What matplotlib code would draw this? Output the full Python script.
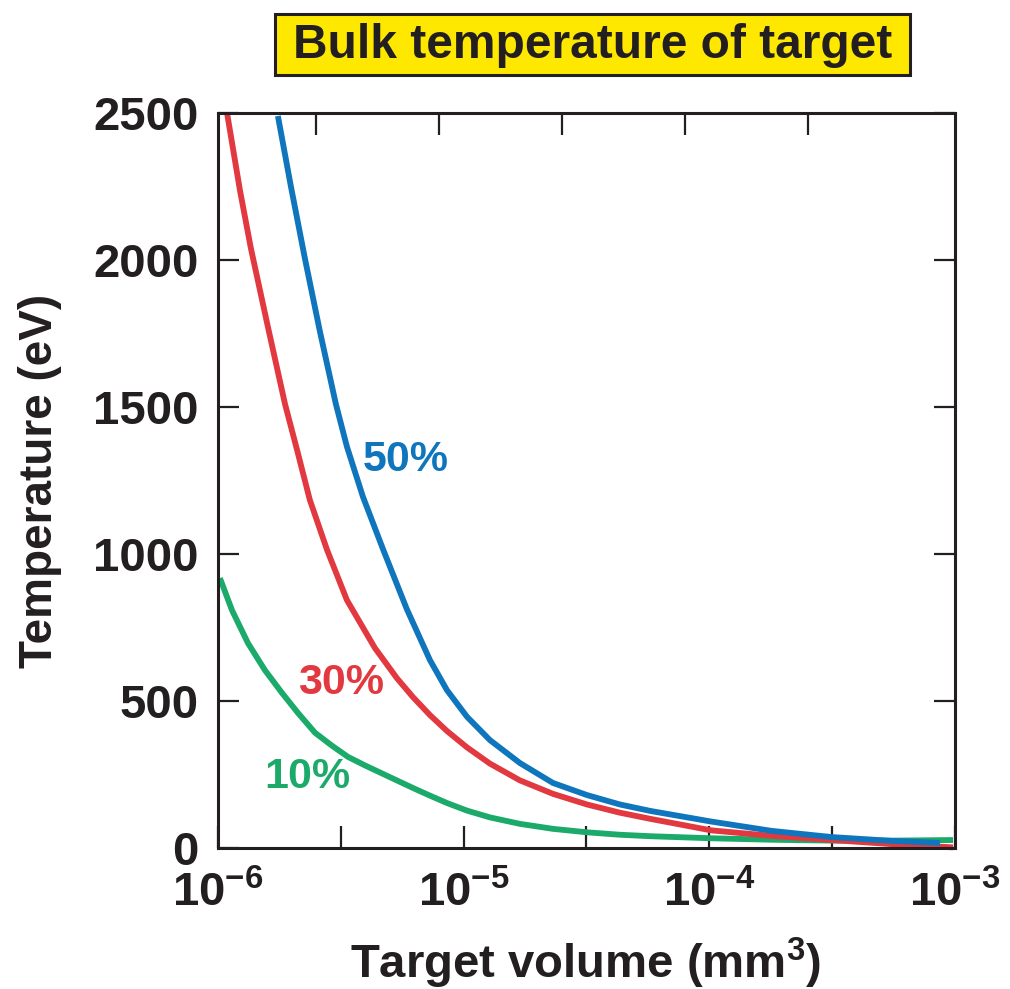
import numpy as np
import matplotlib
matplotlib.use("Agg")
import matplotlib.pyplot as plt
from matplotlib.patches import Rectangle

plt.rcParams['font.family'] = ['Liberation Sans', 'DejaVu Sans']
plt.rcParams['font.weight'] = 'bold'
plt.rcParams['mathtext.fontset'] = 'custom'
plt.rcParams['mathtext.rm'] = 'Liberation Sans:bold'
plt.rcParams['mathtext.bf'] = 'Liberation Sans:bold'
plt.rcParams['mathtext.default'] = 'bf'

INK = '#231F20'
BLUE = '#0F75BC'
RED = '#E2383F'
GREEN = '#1BAA6A'

# target volume as log10(mm^3), temperature in eV
logv_10 = [-5.992, -5.943, -5.878, -5.809, -5.739, -5.674, -5.605, -5.536, -5.471,
           -5.402, -5.341, -5.280, -5.206, -5.137, -5.068, -4.986, -4.893, -4.771,
           -4.636, -4.494, -4.364, -4.240, -3.993, -3.745, -3.501, -3.255, -3.008]
temp_10 = [918, 809, 697, 605, 527, 459, 392, 348, 310,
           281, 257, 233, 204, 178, 153, 127, 104, 82,
           65, 53, 45, 40, 33, 28, 25, 25, 27]

logv_30 = [-5.963, -5.910, -5.866, -5.796, -5.727, -5.678, -5.626, -5.556, -5.475,
           -5.361, -5.271, -5.206, -5.137, -5.068, -4.986, -4.893, -4.771, -4.636,
           -4.498, -4.364, -4.240, -3.993, -3.745, -3.501, -3.255, -3.008]
temp_30 = [2500, 2235, 2040, 1770, 1510, 1354, 1184, 1014, 843,
           680, 577, 513, 452, 398, 342, 287, 230, 184,
           148, 120, 99, 60, 41, 27, 13, 2]

logv_50 = [-5.756, -5.703, -5.646, -5.585, -5.520, -5.475, -5.410, -5.328, -5.231,
           -5.137, -5.068, -4.986, -4.893, -4.771, -4.636, -4.498, -4.364, -4.240,
           -3.993, -3.745, -3.501, -3.255, -3.061]
temp_50 = [2490, 2250, 2005, 1757, 1510, 1365, 1195, 1016, 812,
           639, 537, 446, 367, 289, 221, 180, 148, 126,
           90, 58, 37, 24, 17]

series = [
    (logv_10, temp_10, GREEN, '10%', (2.32e-6, 241)),
    (logv_30, temp_30, RED, '30%', (3.17e-6, 561)),
    (logv_50, temp_50, BLUE, '50%', (5.82e-6, 1320)),
]

fig = plt.figure(figsize=(10.1, 9.89), dpi=100)
ax = fig.add_axes([0.2158, 0.1426, 0.7297, 0.7431])

for logv, temp, color, label, (lx, ly) in series:
    ax.plot(10 ** np.array(logv), temp, color=color, lw=4.2,
            solid_capstyle='butt', solid_joinstyle='round', clip_on=False)
    ax.text(lx, ly, label, color=color, fontsize=31, fontweight='bold',
            ha='center', va='center')

ax.set_xscale('log')
ax.set_xlim(1e-6, 1e-3)
ax.set_ylim(0, 2500)

ax.set_xticks([1e-6, 1e-5, 1e-4, 1e-3])
ax.set_xticklabels([r'$10^{-6}$', r'$10^{-5}$', r'$10^{-4}$', r'$10^{-3}$'])
ax.set_xticks(10 ** np.array([-5.5, -4.5, -3.5]), minor=True)
ax.set_yticks([0, 500, 1000, 1500, 2000, 2500])

ax.tick_params(axis='x', which='both', direction='in', length=16, width=1.6,
               color=INK, bottom=True, top=False)
ax.tick_params(axis='x', which='major', labelsize=34, pad=17, labelcolor=INK)
ax.tick_params(axis='y', direction='in', length=15, width=1.6, color=INK,
               labelsize=34, pad=14, left=True, right=True, labelcolor=INK)
for lab in ax.get_xticklabels() + ax.get_yticklabels():
    lab.set_fontweight('bold')

# top ticks sit a little left of the bottom ones
top = ax.secondary_xaxis('top')
top.set_xticks(10 ** np.array([-5.6, -5.1, -4.6, -4.1, -3.6]))
top.set_xticks([], minor=True)
top.set_xticklabels([])
top.tick_params(direction='in', length=16, width=1.6, color=INK)
top.spines['top'].set_visible(False)

for s in ax.spines.values():
    s.set_linewidth(2.2)
    s.set_color(INK)

# axis titles placed by hand so the superscript doesn't push the x title off
fig.text(586 / 1010, 1 - 978 / 989, r'Target volume (mm$^{3}$)', fontsize=34,
         fontweight='bold', color=INK, ha='center', va='baseline')
ax.set_ylabel('Temperature (eV)', fontsize=33, fontweight='bold',
              color=INK, labelpad=22)

# yellow title banner
fig.patches.append(Rectangle((275 / 1010, 1 - 75 / 989), 635 / 1010, 61 / 989,
                             transform=fig.transFigure, facecolor='#FFE800',
                             edgecolor=INK, lw=2.2))
fig.text(593 / 1010, 1 - 45 / 989, 'Bulk temperature of target', fontsize=34.5,
         fontweight='bold', color=INK, ha='center', va='center')

fig.savefig('out.png', dpi=100)
